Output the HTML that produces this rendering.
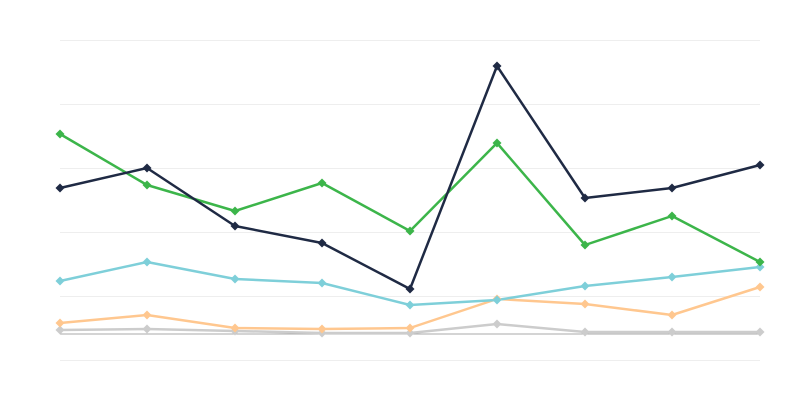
<!DOCTYPE html>
<html><head><meta charset="utf-8"><style>html,body{margin:0;padding:0;background:#fff;}svg{display:block}</style></head>
<body>
<svg width="800" height="400" xmlns="http://www.w3.org/2000/svg">
<g stroke="#eeeeee" stroke-width="1">
<line x1="60" y1="40.5" x2="760" y2="40.5"/>
<line x1="60" y1="104.5" x2="760" y2="104.5"/>
<line x1="60" y1="168.5" x2="760" y2="168.5"/>
<line x1="60" y1="232.5" x2="760" y2="232.5"/>
<line x1="60" y1="296.5" x2="760" y2="296.5"/>
<line x1="60" y1="360.5" x2="760" y2="360.5"/>
</g>
<line x1="60" y1="334" x2="760" y2="334" stroke="#aaaaaa" stroke-width="1"/>
<g fill="none" stroke-width="2.5" stroke-linejoin="round">
<polyline stroke="#cccccc" points="60,330 147,329 235,331 322,333 410,333 497,324 585,332 672,332 760,332"/>
<polyline stroke="#ffc78f" points="60,323 147,315 235,328 322,329 410,328 497,299 585,304 672,315 760,287"/>
<polyline stroke="#7ecfd9" points="60,281 147,262 235,279 322,283 410,305 497,300 585,286 672,277 760,267"/>
<polyline stroke="#3cb54a" points="60,134 147,185 235,211 322,183 410,231 497,143 585,245 672,216 760,262"/>
<polyline stroke="#1f2a44" points="60,188 147,168 235,226 322,243 410,289 497,66 585,198 672,188 760,165"/>
</g>
<defs><path id="d" d="M0,-4.5 L4.5,0 L0,4.5 L-4.5,0Z"/></defs>
<g fill="#cccccc"><use href="#d" x="60" y="330"/><use href="#d" x="147" y="329"/><use href="#d" x="235" y="331"/><use href="#d" x="322" y="333"/><use href="#d" x="410" y="333"/><use href="#d" x="497" y="324"/><use href="#d" x="585" y="332"/><use href="#d" x="672" y="332"/><use href="#d" x="760" y="332"/></g>
<g fill="#ffc78f"><use href="#d" x="60" y="323"/><use href="#d" x="147" y="315"/><use href="#d" x="235" y="328"/><use href="#d" x="322" y="329"/><use href="#d" x="410" y="328"/><use href="#d" x="497" y="299"/><use href="#d" x="585" y="304"/><use href="#d" x="672" y="315"/><use href="#d" x="760" y="287"/></g>
<g fill="#7ecfd9"><use href="#d" x="60" y="281"/><use href="#d" x="147" y="262"/><use href="#d" x="235" y="279"/><use href="#d" x="322" y="283"/><use href="#d" x="410" y="305"/><use href="#d" x="497" y="300"/><use href="#d" x="585" y="286"/><use href="#d" x="672" y="277"/><use href="#d" x="760" y="267"/></g>
<g fill="#3cb54a"><use href="#d" x="60" y="134"/><use href="#d" x="147" y="185"/><use href="#d" x="235" y="211"/><use href="#d" x="322" y="183"/><use href="#d" x="410" y="231"/><use href="#d" x="497" y="143"/><use href="#d" x="585" y="245"/><use href="#d" x="672" y="216"/><use href="#d" x="760" y="262"/></g>
<g fill="#1f2a44"><use href="#d" x="60" y="188"/><use href="#d" x="147" y="168"/><use href="#d" x="235" y="226"/><use href="#d" x="322" y="243"/><use href="#d" x="410" y="289"/><use href="#d" x="497" y="66"/><use href="#d" x="585" y="198"/><use href="#d" x="672" y="188"/><use href="#d" x="760" y="165"/></g>
</svg>
</body></html>
